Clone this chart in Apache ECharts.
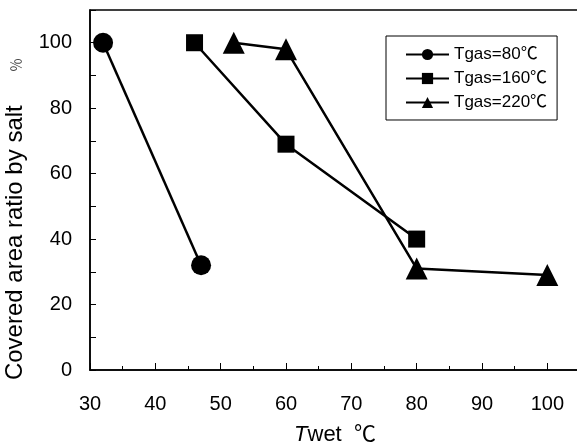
<!DOCTYPE html>
<html>
<head>
<meta charset="utf-8">
<script src="https://cdn.jsdelivr.net/npm/echarts@6/dist/echarts.min.js"></script>
<style>html,body{margin:0;padding:0;background:#fff}#c{width:577px;height:448px}</style>
</head>
<body>
<div id="c"></div>
<script>
var seriesNames = ['Tgas=80\u2103', 'Tgas=160\u2103', 'Tgas=220\u2103'];
var tgas80 = [[32, 100], [47, 32]];
var tgas160 = [[46, 100], [60, 69], [80, 40]];
var tgas220 = [[52, 100], [60, 98], [80, 31], [100, 29]];
var xTicks = [30, 40, 50, 60, 70, 80, 90, 100];
var yTicks = [0, 20, 40, 60, 80, 100];

var FONT = 'Liberation Sans, Arial, "Noto Sans CJK JP", sans-serif';
var chart = echarts.init(document.getElementById('c'), null, {renderer: 'canvas'});
function mk(name, data, symbol, size) {
  return {
    name: name, type: 'line', data: data, symbol: symbol, symbolSize: size,
    lineStyle: {color: '#000', width: 2.5}, itemStyle: {color: '#000'},
    animation: false, z: 3
  };
}
chart.setOption({
  animation: false,
  backgroundColor: '#fff',
  textStyle: {fontFamily: FONT, color: '#000'},
  grid: {left: 90, top: 10, right: -3, bottom: 78, show: true, borderColor: '#000', borderWidth: 1.5,
    containLabel: false, outerBoundsMode: 'none'},
  legend: {
    orient: 'vertical', left: 386, top: 36,
    data: seriesNames,
    borderColor: '#000', borderWidth: 1, backgroundColor: '#fff',
    padding: [10, 10, 9, 19], itemGap: 7, itemWidth: 43, itemHeight: 14,
    textStyle: {fontSize: 17, color: '#000', fontFamily: FONT}
  },
  xAxis: {
    type: 'value', min: 30, max: 105, interval: 10,
    axisLine: {lineStyle: {color: '#000', width: 1.5}},
    axisTick: {inside: true, length: 7, lineStyle: {color: '#000', width: 1}},
    minorTick: {show: true, splitNumber: 2, length: 4, lineStyle: {color: '#000', width: 1}},
    splitLine: {show: false},
    axisLabel: {margin: 24, fontSize: 20, color: '#000', fontFamily: FONT,
      formatter: function (v) { return xTicks.indexOf(v) >= 0 ? String(v) : ''; }},
    name: '{i|T}wet  \u2103', nameLocation: 'middle', nameGap: 54,
    nameTextStyle: {fontSize: 22, color: '#000', fontFamily: FONT,
      rich: {i: {fontStyle: 'italic', fontSize: 22, fontFamily: FONT}}}
  },
  yAxis: {
    type: 'value', min: 0, max: 110, interval: 20,
    axisLine: {lineStyle: {color: '#000', width: 1.5}},
    axisTick: {inside: true, length: 6, lineStyle: {color: '#000', width: 1}},
    minorTick: {show: true, splitNumber: 2, length: 6, lineStyle: {color: '#000', width: 1}},
    splitLine: {show: false},
    axisLabel: {margin: 18, fontSize: 20, color: '#000', fontFamily: FONT,
      formatter: function (v) { return yTicks.indexOf(v) >= 0 ? String(v) : ''; }},
    name: 'Covered area ratio by salt     {p|\uff05}', nameLocation: 'middle', nameGap: 53,
    nameTextStyle: {fontSize: 24, color: '#000', fontFamily: FONT, padding: [0, 58, 0, 0],
      rich: {p: {fontSize: 14, color: '#444', fontFamily: '"Noto Sans CJK JP"'}}}
  },
  series: [
    mk(seriesNames[0], tgas80, 'circle', 20),
    mk(seriesNames[1], tgas160, 'rect', 17),
    mk(seriesNames[2], tgas220, 'triangle', 22)
  ]
});
</script>
</body>
</html>
